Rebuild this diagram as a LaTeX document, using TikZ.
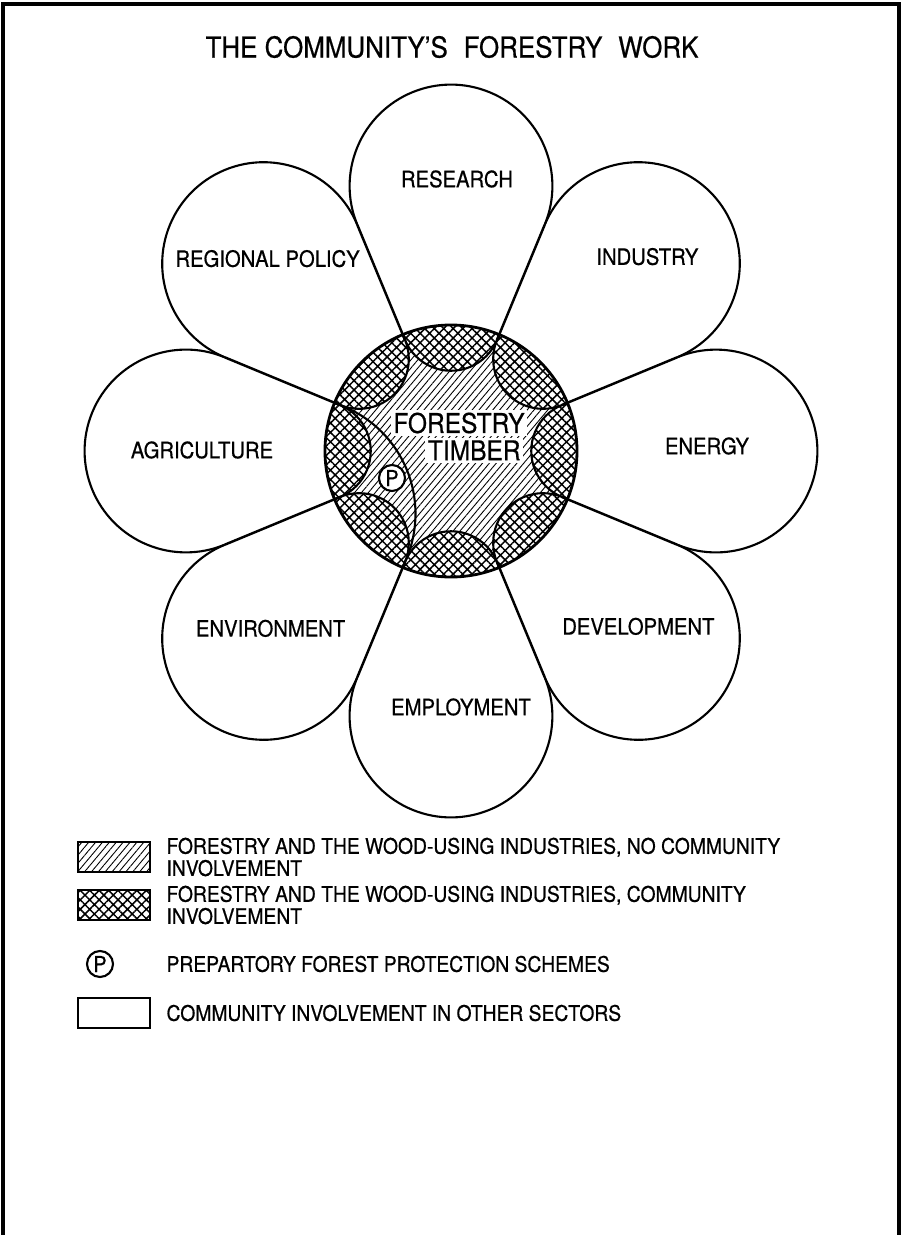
\documentclass[tikz,border=0pt]{standalone}
\usepackage{fontspec}
\setmainfont{TeX Gyre Heros}[FakeStretch=0.9, FakeBold=0.6]
\usetikzlibrary{positioning,patterns.meta}

\newcommand{\petaldist}{265}   % centre to sector circle
\newcommand{\petalrad}{101.4}  % sector circle, 265*sin(22.5)
\newcommand{\lobedist}{130}    % centre to inner lobe
\newcommand{\loberad}{49.75}

\begin{document}
\begin{tikzpicture}[x=0.02cm, y=0.02cm,
  every node/.style={font=\fontsize{12.8}{14}\selectfont},
  outline/.style={line width=1.2pt},
  petalline/.style={line width=1.4pt},
  petallabel/.style={fill=white, inner sep=1pt},
  centrelabel/.style={fill=white, inner sep=1.5pt, font=\fontsize{15.5}{17}\selectfont},
  pmark/.style={circle, draw, line width=1.2pt, fill=white, inner sep=0pt, minimum size=0.52cm, font=\fontsize{12.5}{13}\selectfont},
  hatchfill/.style={pattern={Lines[angle=50, distance=3pt, line width=0.5pt]}},
  lobefill/.style={pattern={Hatch[angle=45, distance=3.8pt, line width=0.85pt]}},
  swatch/.style={draw, line width=1.4pt, minimum width=1.44cm, minimum height=0.6cm, inner sep=0pt},
  legendtext/.style={align=left, anchor=west, inner sep=0pt, font=\fontsize{12.2}{12.6}\selectfont}]

\useasboundingbox (-451,-784) rectangle (452,451);

% page frame, open at the foot
\draw[line width=1.8pt] (-448,-790) -- (-448,447) -- (448,447) -- (448,-790);

\node (title) at (1,404) {\fontsize{16.4}{18}\selectfont THE COMMUNITY'S\hspace{0.3em} FORESTRY\hspace{0.3em} WORK};

% forestry disk, lobes cross-hatched where the sectors reach in
\fill[white] (0,0) circle (126);
\fill[hatchfill] (0,0) circle (126);
\begin{scope}
  \clip (0,0) circle (126);
  \foreach \a in {0,45,...,315} {
    \fill[white] (\a:\lobedist) circle (\loberad);
    \fill[lobefill] (\a:\lobedist) circle (\loberad);
    \draw[outline] (\a:\lobedist) circle (\loberad);
  }
  % protection schemes reach across agriculture/environment
  \draw[outline] (202.5:164) circle (116);
\end{scope}
\draw[line width=1.6pt] (0,0) circle (126);

% sectors: shared spokes, then the outer circles
\foreach \a in {22.5,67.5,...,337.5}
  \draw[petalline] (\a:120) -- (\a:244.8);
\foreach \a in {0,45,...,315}
  \draw[outline] (\a:\petaldist) ++(\a-112.5:\petalrad)
    arc[start angle=\a-112.5, end angle=\a+112.5, radius=\petalrad];

\foreach \a/\nm/\dx/\dy/\txt in {90/research/6/7/RESEARCH, 45/industry/9/7/INDUSTRY,
    0/energy/-9/5/ENERGY, 315/development/0/12/DEVELOPMENT, 270/employment/10/9/EMPLOYMENT,
    225/environment/7/10/ENVIRONMENT, 180/agriculture/16/1/AGRICULTURE, 135/regional/4/5/REGIONAL POLICY}
  \node[petallabel] (\nm) at ([shift={(\dx,\dy)}]\a:\petaldist) {\txt};

\node[centrelabel] (forestry) at (8,28) {FORESTRY};
\node[centrelabel, anchor=north east] (timber) at ([xshift=-0.08cm, yshift=-0.02cm]forestry.south east) {TIMBER};
\node[pmark] (pscheme) at (-59,-27) {P};

% key
\node[swatch, hatchfill] (keyhatch) at (-337,-406) {};
\node[legendtext, right=0.3cm of keyhatch] (txthatch) {FORESTRY AND THE WOOD-USING INDUSTRIES, NO COMMUNITY\\INVOLVEMENT};
\node[swatch, lobefill] (keycross) at (-337,-454) {};
\node[legendtext, right=0.3cm of keycross] (txtcross) {FORESTRY AND THE WOOD-USING INDUSTRIES, COMMUNITY\\INVOLVEMENT};
\node[pmark] (keyp) at (-351,-513) {P};
\node[legendtext] (txtp) at (keyp -| txthatch.west) {PREPARTORY FOREST PROTECTION SCHEMES};
\node[swatch] (keyplain) at (-337,-562) {};
\node[legendtext, right=0.3cm of keyplain] (txtplain) {COMMUNITY INVOLVEMENT IN OTHER SECTORS};
\end{tikzpicture}
\end{document}
